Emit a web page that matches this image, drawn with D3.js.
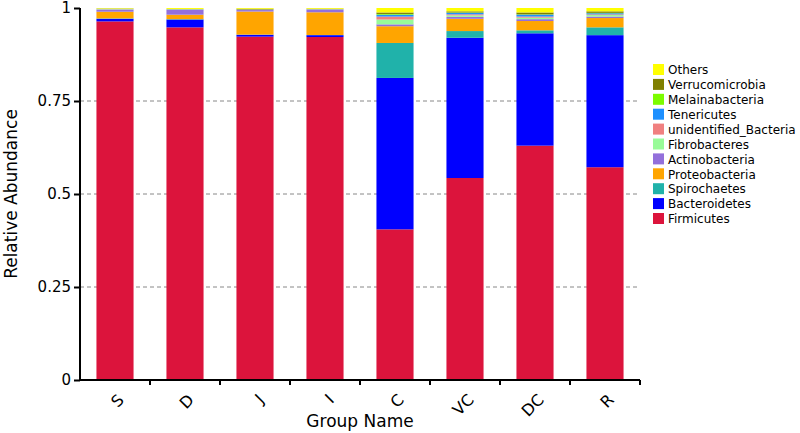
<!DOCTYPE html>
<html>
<head>
<meta charset="utf-8">
<script src="https://cdn.jsdelivr.net/npm/d3@7"></script>
<style>
  body { margin: 0; background: #fff; }
  text { font-family: "DejaVu Sans", sans-serif; }
</style>
</head>
<body>
<div class="chart"></div>
<script>
// groups along the x axis
var groups = ["S", "D", "J", "I", "C", "VC", "DC", "R"];

// phyla, bottom of the stack first
var phyla = ["Firmicutes", "Bacteroidetes", "Spirochaetes", "Proteobacteria", "Actinobacteria",
  "Fibrobacteres", "unidentified_Bacteria", "Tenericutes", "Melainabacteria", "Verrucomicrobia", "Others"];

var colors = ["#DC143C", "#0000FF", "#20B2AA", "#FFA500", "#9370DB",
  "#98FB98", "#F08080", "#1E90FF", "#7CFC00", "#808000", "#FFFF00"];

// relative abundance per group (S, D, J, I, C, VC, DC, R)
var firmicutes     = [0.964, 0.948, 0.923, 0.922, 0.405, 0.543, 0.630, 0.572];
var bacteroidetes  = [0.007, 0.021, 0.005, 0.005, 0.407, 0.377, 0.302, 0.355];
var spirochaetes   = [0.001, 0.001, 0.0005, 0.0005, 0.094, 0.018, 0.008, 0.021];
var proteobacteria = [0.018, 0.012, 0.062, 0.061, 0.045, 0.033, 0.025, 0.025];
var actinobacteria = [0.006, 0.013, 0.004, 0.007, 0.005, 0.005, 0.005, 0.004];
var fibrobacteres  = [0.001, 0.001, 0.0005, 0.0005, 0.013, 0.004, 0.004, 0.004];
var unidentified   = [0.0005, 0.0005, 0.0005, 0.0005, 0.008, 0.003, 0.003, 0.002];
var tenericutes    = [0.0005, 0.0005, 0.0005, 0.0005, 0.005, 0.004, 0.005, 0.003];
var melaina        = [0, 0, 0, 0, 0.002, 0.001, 0.001, 0.001];
var verruco        = [0.0005, 0.0005, 0.002, 0.001, 0.004, 0.003, 0.005, 0.004];
var others         = [0.0015, 0.0025, 0.002, 0.002, 0.012, 0.009, 0.012, 0.009];

var series = [firmicutes, bacteroidetes, spirochaetes, proteobacteria, actinobacteria,
  fibrobacteres, unidentified, tenericutes, melaina, verruco, others];

var yTicks = [0, 0.25, 0.5, 0.75, 1];
var yTickLabels = ["0", "0.25", "0.5", "0.75", "1"];

var svgWidth = 800;
var svgHeight = 433;
var margin = { top: 8, right: 160, bottom: 53, left: 80 };
var width = svgWidth - margin.left - margin.right;
var height = svgHeight - margin.top - margin.bottom;

var svg = d3.select(".chart")
  .append("svg")
  .attr("width", svgWidth)
  .attr("height", svgHeight);

var chartGroup = svg.append("g")
  .attr("transform", `translate(${margin.left}, ${margin.top})`);

// build table rows for d3.stack
var table = groups.map(function(g, i) {
  var row = { group: g };
  phyla.forEach(function(p, j) { row[p] = series[j][i]; });
  return row;
});

var stacked = d3.stack().keys(phyla)(table);

var xScale = d3.scaleBand()
  .domain(groups)
  .range([0, width])
  .paddingInner(0.47)
  .paddingOuter(0.235);

var yScale = d3.scaleLinear()
  .domain([0, 1])
  .range([height, 0]);

// dashed gridlines
chartGroup.selectAll(".grid")
  .data([0.25, 0.5, 0.75])
  .enter()
  .append("line")
  .attr("x1", 0)
  .attr("x2", width)
  .attr("y1", d => yScale(d))
  .attr("y2", d => yScale(d))
  .attr("stroke", "#888")
  .attr("stroke-width", 1)
  .attr("stroke-dasharray", "4,3");

// bars
chartGroup.selectAll(".layer")
  .data(stacked)
  .enter()
  .append("g")
  .attr("fill", (d, i) => colors[i])
  .selectAll("rect")
  .data(d => d)
  .enter()
  .append("rect")
  .attr("x", d => xScale(d.data.group))
  .attr("y", d => yScale(d[1]))
  .attr("width", xScale.bandwidth())
  .attr("height", d => yScale(d[0]) - yScale(d[1]));

// y axis
var leftAxis = d3.axisLeft(yScale)
  .tickValues(yTicks)
  .tickFormat((d, i) => yTickLabels[i])
  .tickSize(6)
  .tickPadding(3);

var yAxis = chartGroup.append("g").call(leftAxis);
yAxis.select(".domain").attr("stroke-width", 2).attr("d", `M0,${height}V0`);
yAxis.selectAll(".tick line").attr("stroke-width", 2);
yAxis.selectAll("text").style("font-size", "15px").attr("fill", "#000");

// x axis with ticks on band boundaries
var xAxis = chartGroup.append("g")
  .attr("transform", `translate(0, ${height})`);
xAxis.append("line")
  .attr("x1", 0)
  .attr("x2", width)
  .attr("stroke", "#000")
  .attr("stroke-width", 2);
xAxis.selectAll(".xtick")
  .data(groups)
  .enter()
  .append("line")
  .attr("x1", d => xScale(d) + xScale.bandwidth() / 2 + xScale.step() / 2)
  .attr("x2", d => xScale(d) + xScale.bandwidth() / 2 + xScale.step() / 2)
  .attr("y1", 0)
  .attr("y2", 5)
  .attr("stroke", "#000")
  .attr("stroke-width", 2);
xAxis.selectAll(".xlabel")
  .data(groups)
  .enter()
  .append("text")
  .attr("transform", d => `translate(${xScale(d) + xScale.bandwidth() / 2 + 6}, 17) rotate(-45)`)
  .attr("text-anchor", "end")
  .attr("dy", "0.35em")
  .style("font-size", "16px")
  .text(d => d);

// axis titles
svg.append("text")
  .attr("x", margin.left + width / 2)
  .attr("y", 427)
  .attr("text-anchor", "middle")
  .style("font-size", "17px")
  .text("Group Name");

svg.append("text")
  .attr("transform", `translate(17, ${margin.top + height / 2}) rotate(-90)`)
  .attr("text-anchor", "middle")
  .style("font-size", "17px")
  .text("Relative Abundance");

// legend, top entry is the top of the stack
var legendItems = phyla.slice().reverse();
var legend = svg.append("g")
  .attr("transform", "translate(653, 64)");
var rows = legend.selectAll("g")
  .data(legendItems)
  .enter()
  .append("g")
  .attr("transform", (d, i) => `translate(0, ${i * 14.9})`);
rows.append("rect")
  .attr("width", 11)
  .attr("height", 11)
  .attr("fill", d => colors[phyla.indexOf(d)]);
rows.append("text")
  .attr("x", 15)
  .attr("y", 6)
  .attr("dy", "0.35em")
  .style("font-size", "12px")
  .text(d => d);
</script>
</body>
</html>
